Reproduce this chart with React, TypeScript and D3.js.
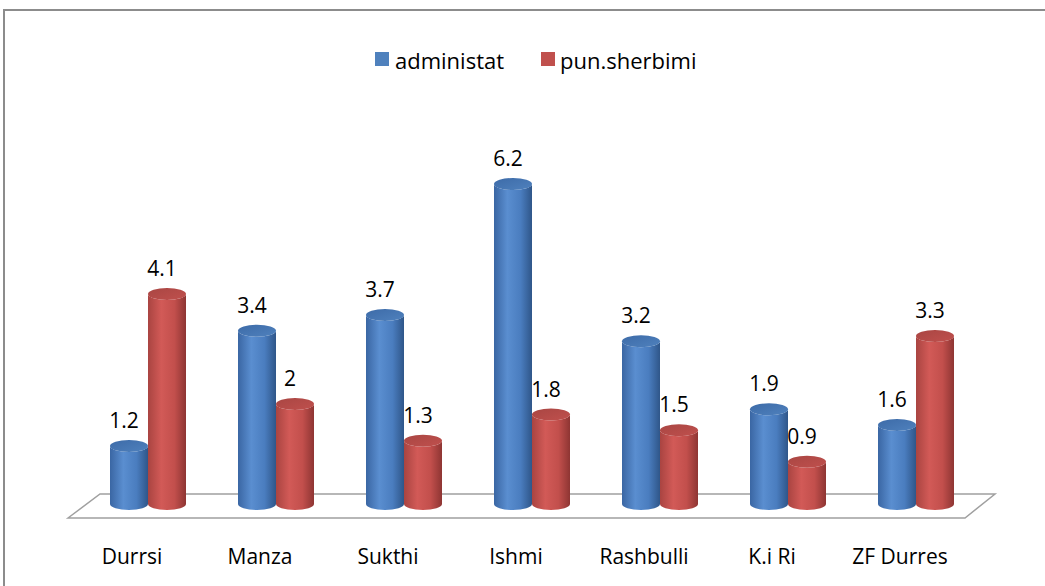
import React from "react";
import * as d3 from "d3";

const categories = ["Durrsi", "Manza", "Sukthi", "Ishmi", "Rashbulli", "K.i Ri", "ZF Durres"];
const administat = [1.2, 3.4, 3.7, 6.2, 3.2, 1.9, 1.6];
const punSherbimi = [4.1, 2, 1.3, 1.8, 1.5, 0.9, 3.3];
const seriesNames = ["administat", "pun.sherbimi"];

const W = 1045;
const H = 586;
const FONT = "'Open Sans', Lato, sans-serif";

export default function App() {
  const x = d3.scaleBand<string>().domain(categories).range([84, 980]);
  const y = d3.scaleLinear().domain([0, 6.2]).range([508.9, 184]);
  const baseY = 504;
  const rx = 19;
  const ry = 6;

  const series = [
    { name: seriesNames[0], values: administat, fill: "blue", off: -19 },
    { name: seriesNames[1], values: punSherbimi, fill: "red", off: 19 },
  ];

  const cyl = (cx: number, yt: number) => {
    const l = cx - rx;
    const r = cx + rx;
    return `M${l},${yt} L${l},${baseY} A${rx},${ry} 0 0 0 ${r},${baseY} L${r},${yt} A${rx},${ry} 0 0 1 ${l},${yt} Z`;
  };

  return (
    <svg width={W} height={H} style={{ position: "absolute", left: 0, top: 0, background: "#fff" }}>
      <defs>
        <linearGradient id="blueG" x1="0" x2="1" y1="0" y2="0">
          <stop offset="0" stopColor="#3a66a3" />
          <stop offset="0.35" stopColor="#5a8ed0" />
          <stop offset="0.7" stopColor="#4a7dbf" />
          <stop offset="1" stopColor="#2f5689" />
        </linearGradient>
        <linearGradient id="redG" x1="0" x2="1" y1="0" y2="0">
          <stop offset="0" stopColor="#a94441" />
          <stop offset="0.35" stopColor="#d25a57" />
          <stop offset="0.7" stopColor="#c24f4c" />
          <stop offset="1" stopColor="#8e3533" />
        </linearGradient>
        <linearGradient id="blueT" x1="0" x2="1" y1="0" y2="1">
          <stop offset="0" stopColor="#3d6ba8" />
          <stop offset="1" stopColor="#4f81bd" />
        </linearGradient>
        <linearGradient id="redT" x1="0" x2="1" y1="0" y2="1">
          <stop offset="0" stopColor="#a94643" />
          <stop offset="1" stopColor="#c0504d" />
        </linearGradient>
      </defs>
      <rect x={4} y={10} width={W + 20} height={H + 20} fill="#fff" stroke="#8c8c8c" strokeWidth={2} />

      {/* legend */}
      <g fontFamily={FONT} fontSize={22} fill="#000">
        <rect x={375} y={52} width={14} height={14} fill="#4f81bd" />
        <text x={395} y={69}>{seriesNames[0]}</text>
        <rect x={541} y={52} width={14} height={14} fill="#c0504d" />
        <text x={560} y={69}>{seriesNames[1]}</text>
      </g>

      {/* floor */}
      <path d="M68,518 L100,494 L995,494 L965,518 Z" fill="#fff" stroke="#a0a0a0" strokeWidth={1.5} />

      {categories.map((c, i) => {
        const gc = (x(c) as number) + x.bandwidth() / 2;
        return (
          <g key={c}>
            {series.map((s) => {
              const cx = gc + s.off;
              const yt = y(s.values[i]);
              return (
                <g key={s.name}>
                  <path d={cyl(cx, yt)} fill={s.fill === "blue" ? "url(#blueG)" : "url(#redG)"} />
                  <ellipse cx={cx} cy={yt} rx={rx} ry={ry} fill={s.fill === "blue" ? "url(#blueT)" : "url(#redT)"} />
                  <text x={cx - 5} y={yt - 18} textAnchor="middle" fontFamily={FONT} fontSize={21} fill="#000">
                    {String(s.values[i])}
                  </text>
                </g>
              );
            })}
            <text x={gc - 16} y={564} textAnchor="middle" fontFamily={FONT} fontSize={21} fill="#000">
              {c}
            </text>
          </g>
        );
      })}
    </svg>
  );
}
